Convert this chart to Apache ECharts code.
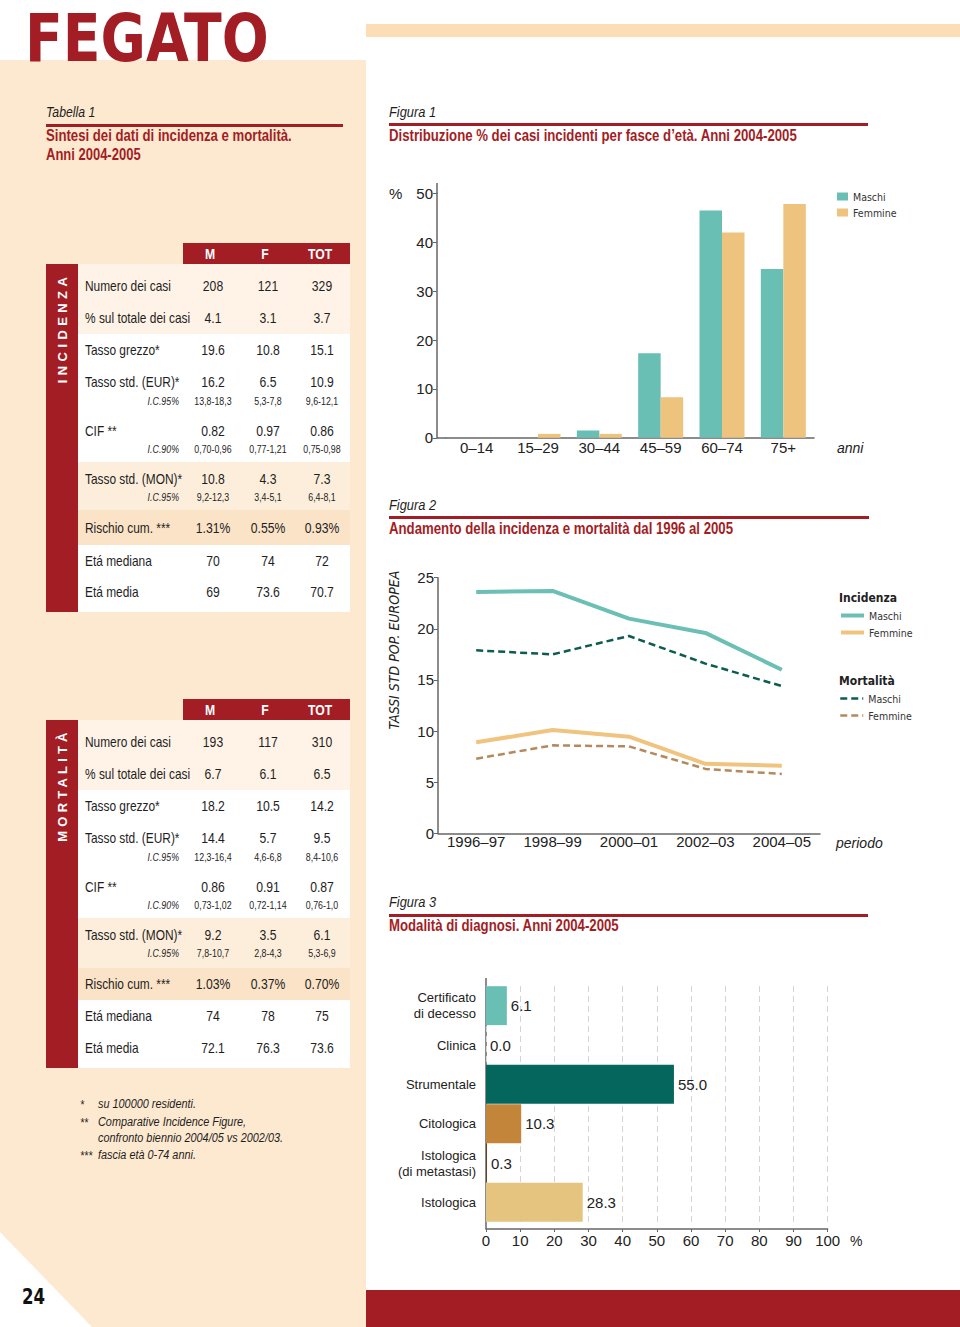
<!DOCTYPE html>
<html lang="it"><head><meta charset="utf-8">
<title>Fegato</title>
<script src="https://cdn.jsdelivr.net/npm/echarts@6.0.0/dist/echarts.min.js"></script>
<style>
html,body{margin:0;padding:0;background:#fff;}
#page{position:relative;width:960px;height:1327px;overflow:hidden;}
.bg{position:absolute;}
.t{position:absolute;white-space:nowrap;line-height:1;font-family:"Liberation Sans",Arial,sans-serif;color:#1e1e1e;}
#chart{position:absolute;left:0;top:0;width:960px;height:1327px;}
#logo{position:absolute;left:25px;top:1px;line-height:normal;font-size:65px;font-weight:bold;white-space:nowrap;
  font-family:"DejaVu Sans Condensed","DejaVu Sans",sans-serif;color:#A31D24;transform-origin:0 0;}
</style></head>
<body><div id="page">
<div class="bg" style="left:0;top:60px;width:366px;height:1267px;background:#FDE9D0;clip-path:polygon(0 0,366px 0,366px 1267px,92px 1267px,0 1172px);"></div>
<div class="bg" style="left:366px;top:24px;width:594px;height:13px;background:#FCDDB6;"></div>
<div class="bg" style="left:366px;top:1290px;width:594px;height:37px;background:#A31D24;"></div>
<div id="logo">FEGATO</div>
<svg class="bg" style="left:0;top:1280px" width="80" height="40"><text x="22" y="24" textLength="23" lengthAdjust="spacingAndGlyphs" font-family="DejaVu Sans Condensed, DejaVu Sans, sans-serif" font-weight="bold" font-size="22" fill="#111">24</text></svg>
<div id="chart"></div>
</div>
<script>
// ---------- DATA ----------
const colHeads = ['M', 'F', 'TOT'];
const rowLabels = ['Numero dei casi', '% sul totale dei casi', 'Tasso grezzo*', 'Tasso std. (EUR)*', 'CIF **', 'Tasso std. (MON)*', 'Rischio cum. ***', 'Etá mediana', 'Etá media'];
const ciLabels = ['', '', '', 'I.C.95%', 'I.C.90%', 'I.C.95%', '', '', ''];
const incM = ['208', '4.1', '19.6', '16.2', '0.82', '10.8', '1.31%', '70', '69'];
const incF = ['121', '3.1', '10.8', '6.5', '0.97', '4.3', '0.55%', '74', '73.6'];
const incTot = ['329', '3.7', '15.1', '10.9', '0.86', '7.3', '0.93%', '72', '70.7'];
const incCiM = ['', '', '', '13,8-18,3', '0,70-0,96', '9,2-12,3', '', '', ''];
const incCiF = ['', '', '', '5,3-7,8', '0,77-1,21', '3,4-5,1', '', '', ''];
const incCiTot = ['', '', '', '9,6-12,1', '0,75-0,98', '6,4-8,1', '', '', ''];
const morM = ['193', '6.7', '18.2', '14.4', '0.86', '9.2', '1.03%', '74', '72.1'];
const morF = ['117', '6.1', '10.5', '5.7', '0.91', '3.5', '0.37%', '78', '76.3'];
const morTot = ['310', '6.5', '14.2', '9.5', '0.87', '6.1', '0.70%', '75', '73.6'];
const morCiM = ['', '', '', '12,3-16,4', '0,73-1,02', '7,8-10,7', '', '', ''];
const morCiF = ['', '', '', '4,6-6,8', '0,72-1,14', '2,8-4,3', '', '', ''];
const morCiTot = ['', '', '', '8,4-10,6', '0,76-1,0', '5,3-6,9', '', '', ''];
const footMarks = ['*', '**', '***'];
const footTexts = [['su 100000 residenti.'], ['Comparative Incidence Figure,', 'confronto biennio 2004/05 vs 2002/03.'], ['fascia età 0-74 anni.']];

const ageGroups = ['0–14', '15–29', '30–44', '45–59', '60–74', '75+'];
const ageMaschi = [0, 0, 1.5, 17.3, 46.5, 34.5];
const ageFemmine = [0, 0.8, 0.8, 8.3, 42.0, 47.8];

const periods = ['1996–97', '1998–99', '2000–01', '2002–03', '2004–05'];
const incMaschi = [23.6, 23.7, 21.0, 19.6, 16.0];
const incFemmine = [8.9, 10.1, 9.45, 6.8, 6.6];
const mortMaschi = [17.9, 17.5, 19.3, 16.6, 14.4];
const mortFemmine = [7.3, 8.6, 8.5, 6.3, 5.8];

const diagCats = ['Certificato\ndi decesso', 'Clinica', 'Strumentale', 'Citologica', 'Istologica\n(di metastasi)', 'Istologica'];
const diagValues = [6.1, 0.0, 55.0, 10.3, 0.3, 28.3];

// ---------- LAYOUT / STYLE ----------
const page = document.getElementById('page');
const RED = '#A31D24';
const NARROW = 0.84;
const logo = document.getElementById('logo');
logo.style.transform = `scaleX(${244 / logo.offsetWidth})`;

function box(x, y, w, h, c) {
  const d = document.createElement('div');
  d.className = 'bg';
  d.style.cssText = `left:${x}px;top:${y}px;width:${w}px;height:${h}px;background:${c};`;
  page.insertBefore(d, document.getElementById('chart'));
  return d;
}
function T(x, y, text, o = {}) {
  const s = document.createElement('div');
  s.className = 't';
  s.textContent = text;
  s.style.left = x + 'px';
  s.style.top = y + 'px';
  s.style.fontSize = (o.size || 14) + 'px';
  if (o.bold) s.style.fontWeight = 'bold';
  if (o.italic) s.style.fontStyle = 'italic';
  if (o.color) s.style.color = o.color;
  if (o.ls) s.style.letterSpacing = o.ls + 'px';
  if (o.font) s.style.fontFamily = o.font;
  const ax = o.align === 'center' ? '-50%' : o.align === 'right' ? '-100%' : '0';
  s.style.transformOrigin = (o.align === 'center' ? '50%' : o.align === 'right' ? '100%' : '0') + ' 50%';
  let tr = `translate(${ax},-50%)`;
  if (o.rot) tr += ` rotate(${o.rot}deg)`;
  page.insertBefore(s, document.getElementById('chart'));
  let sx = o.sx || 1;
  if (o.w) sx = o.w / s.offsetWidth;
  if (sx !== 1) tr += ` scaleX(${sx})`;
  s.style.transform = tr;
  return s;
}

// headings
T(46, 111, 'Tabella 1', {size: 15, italic: true, w: 49});
box(46, 124, 297, 3, RED);
T(46, 136, 'Sintesi dei dati di incidenza e mortalità.', {size: 16, bold: true, color: RED, w: 246});
T(46, 155, 'Anni 2004-2005', {size: 16, bold: true, color: RED, w: 95});

T(389, 111, 'Figura 1', {size: 15, italic: true, w: 47});
box(389, 123, 479, 3, RED);
T(389, 136, 'Distribuzione % dei casi incidenti per fasce d’età. Anni 2004-2005', {size: 16, bold: true, color: RED, w: 408});
T(389, 504, 'Figura 2', {size: 15, italic: true, w: 47});
box(389, 516, 480, 3, RED);
T(389, 529, 'Andamento della incidenza e mortalità dal 1996 al 2005', {size: 16, bold: true, color: RED, w: 344});
T(389, 901, 'Figura 3', {size: 15, italic: true, w: 47});
box(389, 914, 479, 3, RED);
T(389, 926, 'Modalità di diagnosi. Anni 2004-2005', {size: 16, bold: true, color: RED, w: 230});

// tables
const colX = [213, 268, 322];
const headX = [210, 265, 320];
const rowBg = ['#FEF3E6', '#FEF3E6', '#FFFFFF', '#FFFFFF', '#FFFFFF', '#FDEEDC', '#FBE3C8', '#FFFFFF', '#FFFFFF'];
function drawTable(top, heights, mainOff, vals, cis, word, wordY, wordLs) {
  box(183, top - 21, 167, 21, RED);
  colHeads.forEach((h, i) => T(headX[i], top - 10.5, h, {size: 14.5, bold: true, color: '#fff', align: 'center', sx: NARROW}));
  const total = heights.reduce((a, b) => a + b, 0);
  box(46, top, 32, total, RED);
  T(62, wordY, word, {size: 13, bold: true, color: '#fff', align: 'center', rot: -90, ls: wordLs});
  let y = top;
  heights.forEach((h, r) => {
    box(78, y, 272, h, rowBg[r]);
    const my = y + mainOff[r];
    T(85, my, rowLabels[r], {size: 14.5, sx: 0.82});
    vals.forEach((arr, c) => T(colX[c], my, arr[r], {size: 14.5, align: 'center', sx: NARROW}));
    if (ciLabels[r]) {
      const cy = y + 34.5;
      T(179, cy, ciLabels[r], {size: 10.5, italic: true, align: 'right', sx: NARROW});
      cis.forEach((arr, c) => T(colX[c], cy, arr[r], {size: 10.5, align: 'center', sx: NARROW}));
    }
    y += h;
  });
}
drawTable(264, [38, 32, 32, 48, 48, 48, 35, 31, 36], [22, 16, 16, 16, 17, 17, 17.5, 15.5, 16],
  [incM, incF, incTot], [incCiM, incCiF, incCiTot], 'INCIDENZA', 328, 4.4);
drawTable(720, [38, 32, 32, 48, 48, 50, 32, 32, 36], [22, 16, 16, 16, 17, 17, 16, 16, 16],
  [morM, morF, morTot], [morCiM, morCiF, morCiTot], 'MORTALITÀ', 785, 4.2);

// footnotes
const footY = [[1104], [1122, 1138], [1155]];
footMarks.forEach((m, i) => {
  T(80, footY[i][0] + 1, m, {size: 12.5, italic: true, sx: NARROW});
  footTexts[i].forEach((line, j) => T(98, footY[i][j], line, {size: 12.5, italic: true, sx: 0.87}));
});

// ---------- CHARTS ----------
const FN = '"Liberation Sans", Arial, sans-serif';
const FNN = '"DejaVu Sans Condensed", "Liberation Sans", sans-serif';
const AX = '#666';
const TXT = '#222';
const axLine = {show: true, lineStyle: {color: AX, width: 1.5}};
const lbl = (m) => ({fontSize: 15, color: TXT, margin: m, fontFamily: FN});
const diagColors = ['#6ABFB5', '#6ABFB5', '#05665D', '#C2853A', '#5A4526', '#E4C47E'];
const legText = {fontSize: 10.5, color: '#333', fontFamily: FNN};

const chart = echarts.init(document.getElementById('chart'), null, {renderer: 'svg', width: 960, height: 1327});
chart.setOption({
  animation: false,
  grid: [
    {left: 446, top: 193.3, width: 368, height: 244.5},
    {left: 438, top: 577.7, width: 382, height: 255.6},
    {left: 486, top: 986, width: 341.7, height: 236}
  ],
  xAxis: [
    {gridIndex: 0, type: 'category', data: ageGroups, axisLine: axLine, axisTick: {show: false}, axisLabel: lbl(2)},
    {gridIndex: 1, type: 'category', data: periods, axisLine: axLine, axisTick: {show: false}, axisLabel: lbl(1)},
    {gridIndex: 2, type: 'value', min: 0, max: 100, interval: 10, offset: 7, axisLine: axLine,
      axisTick: {show: true, length: 3, lineStyle: {color: AX}}, axisLabel: lbl(4),
      splitLine: {show: true, lineStyle: {color: '#d4d4d4', type: [6, 4], width: 1}}}
  ],
  yAxis: [
    {gridIndex: 0, type: 'value', min: 0, max: 50, interval: 10, offset: 9, axisLine: axLine,
      axisTick: {show: true, length: 4, lineStyle: {color: AX}}, splitLine: {show: false}, axisLabel: lbl(4)},
    {gridIndex: 1, type: 'value', min: 0, max: 25, interval: 5, axisLine: axLine,
      axisTick: {show: true, length: 4, lineStyle: {color: AX}}, splitLine: {show: false}, axisLabel: lbl(4)},
    {gridIndex: 2, type: 'category', data: diagCats, inverse: true, axisLine: {show: false}, axisTick: {show: false},
      axisLabel: {fontSize: 13, lineHeight: 16, color: TXT, margin: 10, fontFamily: FN}}
  ],
  legend: [
    {left: 837, top: 191, padding: 0, orient: 'vertical', icon: 'rect', itemWidth: 11, itemHeight: 8, itemGap: 5, selectedMode: false,
      data: ['Maschi', 'Femmine'], textStyle: legText},
    {left: 839, top: 610, padding: 0, orient: 'vertical', itemWidth: 23, itemHeight: 12, itemGap: 6, selectedMode: false,
      itemStyle: {opacity: 0},
      data: [{name: 'Incidenza Maschi', lineStyle: {width: 4}}, {name: 'Incidenza Femmine', lineStyle: {width: 4}}],
      formatter: n => n.split(' ')[1], textStyle: legText},
    {left: 839, top: 693, padding: 0, orient: 'vertical', itemWidth: 23, itemHeight: 12, itemGap: 6, selectedMode: false,
      itemStyle: {opacity: 0},
      data: [{name: 'Mortalità Maschi', lineStyle: {width: 2.5}}, {name: 'Mortalità Femmine', lineStyle: {width: 2.5}}],
      formatter: n => n.split(' ')[1], textStyle: legText}
  ],
  series: [
    {name: 'Maschi', type: 'bar', xAxisIndex: 0, yAxisIndex: 0, data: ageMaschi, barWidth: 22.5, barGap: '0%', itemStyle: {color: '#6ABFB5'}},
    {name: 'Femmine', type: 'bar', xAxisIndex: 0, yAxisIndex: 0, data: ageFemmine, barWidth: 22.5, barGap: '0%', itemStyle: {color: '#EDC37D'}},
    {name: 'Incidenza Maschi', type: 'line', xAxisIndex: 1, yAxisIndex: 1, data: incMaschi, symbol: 'none',
      lineStyle: {color: '#6BBFB5', width: 4}, itemStyle: {color: '#6BBFB5'}},
    {name: 'Incidenza Femmine', type: 'line', xAxisIndex: 1, yAxisIndex: 1, data: incFemmine, symbol: 'none',
      lineStyle: {color: '#F0C47F', width: 4}, itemStyle: {color: '#F0C47F'}},
    {name: 'Mortalità Maschi', type: 'line', xAxisIndex: 1, yAxisIndex: 1, data: mortMaschi, symbol: 'none',
      lineStyle: {color: '#0D5C52', width: 2.5, type: [7, 4]}, itemStyle: {color: '#0D5C52'}},
    {name: 'Mortalità Femmine', type: 'line', xAxisIndex: 1, yAxisIndex: 1, data: mortFemmine, symbol: 'none',
      lineStyle: {color: '#B48A5C', width: 2.5, type: [7, 4]}, itemStyle: {color: '#B48A5C'}},
    {name: 'Modalità', type: 'bar', xAxisIndex: 2, yAxisIndex: 2, barWidth: '99%',
      data: diagValues.map((v, i) => ({value: v, itemStyle: {color: diagColors[i]}})),
      label: {show: true, position: 'right', distance: 4, fontSize: 15, color: TXT, fontFamily: FN, formatter: p => Number(p.value).toFixed(1)}}
  ],
  graphic: [
    {type: 'line', shape: {x1: 437, y1: 438, x2: 446, y2: 438}, style: {stroke: AX, lineWidth: 1.5}},
    {type: 'line', shape: {x1: 437, y1: 183, x2: 437, y2: 193.3}, style: {stroke: AX, lineWidth: 1.5}},
    {type: 'text', x: 389, y: 193, style: {text: '%', font: '15px ' + FN, fill: TXT, textVerticalAlign: 'middle', verticalAlign: 'middle'}},
    {type: 'text', x: 837, y: 448, style: {text: 'anni', font: 'italic 14px ' + FN, fill: TXT, textVerticalAlign: 'middle', verticalAlign: 'middle'}},
    {type: 'text', x: 394, y: 650, rotation: Math.PI / 2, style: {text: 'TASSI STD POP. EUROPEA', font: 'italic 14px ' + FNN, fill: TXT, textAlign: 'center', align: 'center', textVerticalAlign: 'middle', verticalAlign: 'middle'}},
    {type: 'text', x: 836, y: 843, style: {text: 'periodo', font: 'italic 14px ' + FN, fill: TXT, textVerticalAlign: 'middle', verticalAlign: 'middle'}},
    {type: 'text', x: 839, y: 598, style: {text: 'Incidenza', font: 'bold 12px ' + FNN, fill: TXT, textVerticalAlign: 'middle', verticalAlign: 'middle'}},
    {type: 'text', x: 839, y: 681, style: {text: 'Mortalità', font: 'bold 12px ' + FNN, fill: TXT, textVerticalAlign: 'middle', verticalAlign: 'middle'}},
    {type: 'line', shape: {x1: 486, y1: 978, x2: 486, y2: 1229}, style: {stroke: AX, lineWidth: 1.5}},
    {type: 'text', x: 850, y: 1241, style: {text: '%', font: '14px ' + FN, fill: TXT, textVerticalAlign: 'middle', verticalAlign: 'middle'}}
  ]
});
</script>
</body></html>
